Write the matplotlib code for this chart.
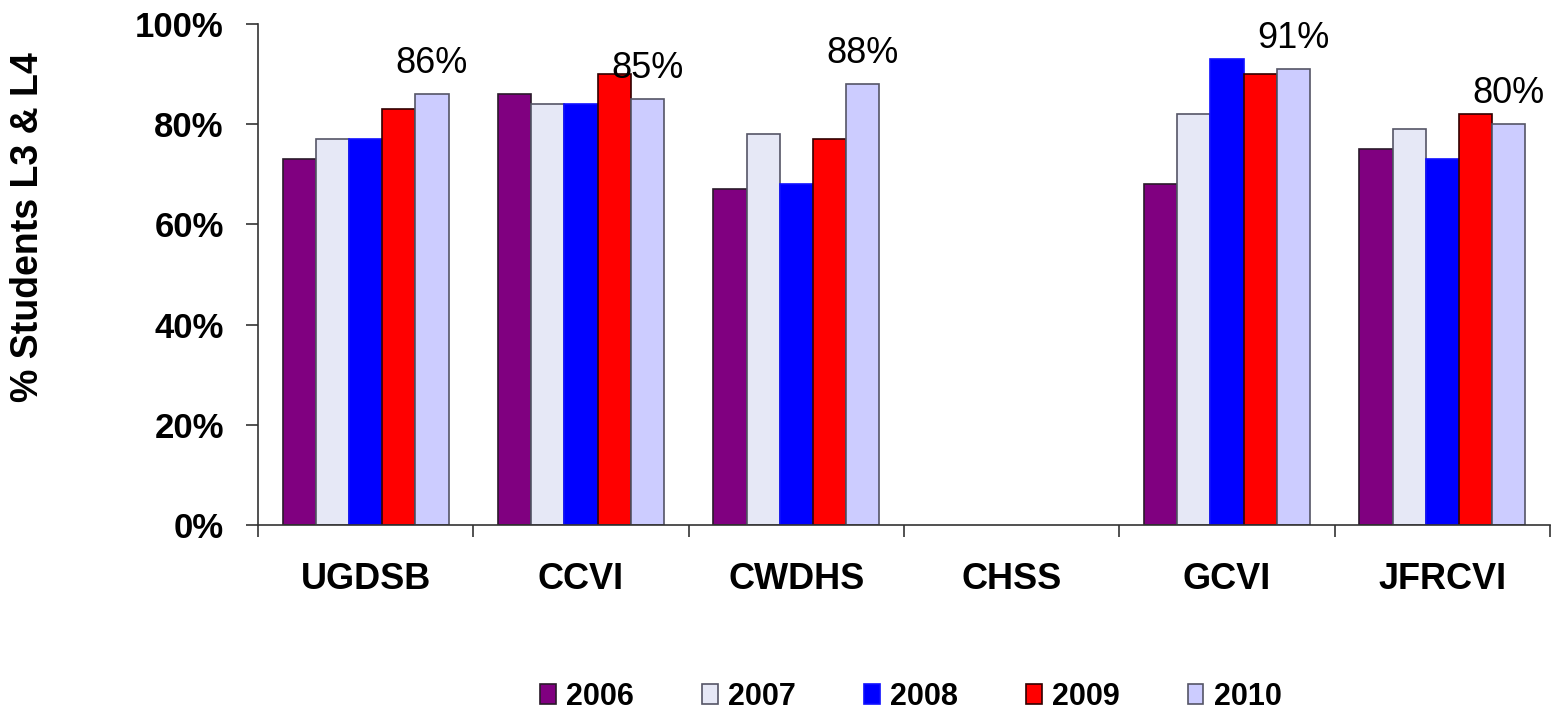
import numpy as np
import matplotlib
matplotlib.use("Agg")
import matplotlib.pyplot as plt
from matplotlib.ticker import FixedLocator

plt.rcParams['font.family'] = ['Liberation Sans', 'DejaVu Sans']

# data
schools = ["UGDSB", "CCVI", "CWDHS", "CHSS", "GCVI", "JFRCVI"]
years = ["2006", "2007", "2008", "2009", "2010"]
v2006 = [73, 86, 67, np.nan, 68, 75]
v2007 = [77, 84, 78, np.nan, 82, 79]
v2008 = [77, 84, 68, np.nan, 93, 73]
v2009 = [83, 90, 77, np.nan, 90, 82]
v2010 = [86, 85, 88, np.nan, 91, 80]
series = [v2006, v2007, v2008, v2009, v2010]

colors = ["#800080", "#E6E8F6", "#0000FF", "#FF0000", "#CCCCFF"]
edges = ["#2a1a2a", "#555566", "#1010ff", "#300000", "#555566"]

fig = plt.figure(figsize=(15.57, 7.16), dpi=100)
ax = fig.add_axes([0.1657, 0.2668, 0.8298, 0.6997])

x = np.arange(len(schools))
w = 0.154
for i, vals in enumerate(series):
    ax.bar(x + (i - 2) * w, vals, width=w, color=colors[i], edgecolor=edges[i],
           linewidth=1.2, label=years[i])

# value labels above the 2010 bars
for xi, v in zip(x, v2010):
    if not np.isnan(v):
        ax.annotate(f"{v:.0f}%", (xi + 2 * w, v), xytext=(0, 22), textcoords="offset points",
                    ha="center", va="center", fontsize=26)

ax.set_xlim(-0.5, len(schools) - 0.5)
ax.set_ylim(0, 100)
ax.set_yticks(np.arange(0, 101, 20))
ax.set_yticklabels([f"{t}%" for t in range(0, 101, 20)], fontsize=25, fontweight="bold")
ax.tick_params(axis="y", length=8.6, width=1.2, color="#333333", pad=16)

ax.set_xticks(x)
ax.set_xticklabels(schools, fontsize=26, fontweight="bold")
ax.xaxis.set_minor_locator(FixedLocator(np.arange(-0.5, len(schools), 1.0)))
ax.tick_params(axis="x", which="major", length=0, pad=27)
ax.tick_params(axis="x", which="minor", length=8.6, width=1.2, color="#333333")

for s in ["top", "right"]:
    ax.spines[s].set_visible(False)
for s in ["left", "bottom"]:
    ax.spines[s].set_color("#333333")
    ax.spines[s].set_linewidth(1.2)

fig.text(0.018, 0.683, "% Students L3 & L4", rotation=90, ha="center", va="center",
         fontsize=27, fontweight="bold")

fig.legend(loc="center", bbox_to_anchor=(0.585, 0.027), ncol=5, frameon=False,
           prop={"size": 22, "weight": "bold"}, handlelength=0.5, handleheight=0.6,
           handletextpad=0.33, columnspacing=2.25)

fig.savefig("out.png", dpi=100)
